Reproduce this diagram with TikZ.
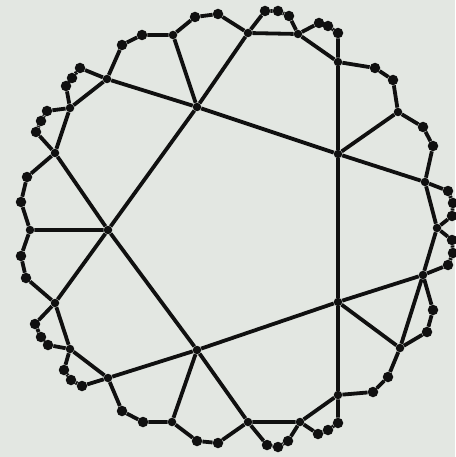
\documentclass[tikz,border=0pt]{standalone}

\definecolor{paper}{RGB}{227,231,226}
\definecolor{ink}{RGB}{16,16,16}
\tikzset{
  hub/.style={circle, fill=ink, inner sep=0pt, minimum size=8.5pt},
  bead/.style={circle, fill=ink, inner sep=0pt, minimum size=10.5pt},
  edge/.style={draw=ink, line width=3.8pt, line join=round},
}

\begin{document}
\begin{tikzpicture}[x=1pt, y=-1pt]
  \fill[paper] (0,0) rectangle (455,457);
  \useasboundingbox (0,0) rectangle (455,457);

  % inner pentagon
  \node[hub] (c1) at (197,107) {};
  \node[hub] (c2) at (338,154) {};
  \node[hub] (c3) at (108,230) {};
  \node[hub] (c4) at (338,302) {};
  \node[hub] (c5) at (197,350) {};
  % spoke ends
  \node[hub] (s1) at (173,35) {};
  \node[hub] (s2) at (398,112) {};
  \node[hub] (s3) at (30,230) {};
  \node[hub] (s4) at (400,348) {};
  \node[hub] (s5) at (172,422) {};
  % ends of the long lines
  \node[hub] (a1) at (107,79) {};
  \node[hub] (a2) at (425,182) {};
  \node[hub] (b1) at (338,62) {};
  \node[hub] (b2) at (338,395) {};
  \node[hub] (d1) at (423,275) {};
  \node[hub] (d2) at (108,378) {};
  \node[hub] (e1) at (248,422) {};
  \node[hub] (e2) at (55,153) {};
  \node[hub] (f1) at (55,303) {};
  \node[hub] (f2) at (248,33) {};
  % outer hubs
  \node[hub] (h1) at (70,108) {};
  \node[hub] (h2) at (298,34) {};
  \node[hub] (h3) at (437,228) {};
  \node[hub] (h4) at (300,422) {};
  \node[hub] (h5) at (70,349) {};

  % beads on the rim, clockwise from a1
  \foreach \n/\x/\y in {1/122/45, 2/142/35, 3/195/17, 4/218/14, 5/265/11,
      6/278/11, 7/289/16, 8/319/23, 9/328/26, 10/338/33, 11/375/68,
      12/393/80, 13/423/127, 14/433/146, 15/448/191, 16/453/203,
      17/452/216, 18/452/240, 19/453/253, 20/448/265, 21/433/310,
      22/427/332, 23/388/377, 24/373/392, 25/338/423, 26/328/430,
      27/318/434, 28/288/441, 29/278/447, 30/267/445, 31/218/443,
      32/197/441, 33/143/422, 34/122/411, 35/82/386, 36/71/380,
      37/64/370, 38/48/345, 39/41/337, 40/35/324, 41/26/278,
      42/21/256, 43/21/202, 44/27/177, 45/36/132, 46/41/121,
      47/47/111, 48/66/86, 49/72/78, 50/80/68}
    \node[bead] (o\n) at (\x,\y) {};

  % rim
  \draw[edge] (a1) -- (o1) -- (o2) -- (s1) -- (o3) -- (o4) -- (f2)
    -- (o5) -- (o6) -- (o7) -- (h2) -- (o8) -- (o9) -- (o10) -- (b1)
    -- (o11) -- (o12) -- (s2) -- (o13) -- (o14) -- (a2)
    -- (o15) -- (o16) -- (o17) -- (h3) -- (o18) -- (o19) -- (o20) -- (d1)
    -- (o21) -- (o22) -- (s4) -- (o23) -- (o24) -- (b2)
    -- (o25) -- (o26) -- (o27) -- (h4) -- (o28) -- (o29) -- (o30) -- (e1)
    -- (o31) -- (o32) -- (s5) -- (o33) -- (o34) -- (d2)
    -- (o35) -- (o36) -- (o37) -- (h5) -- (o38) -- (o39) -- (o40) -- (f1)
    -- (o41) -- (o42) -- (s3) -- (o43) -- (o44) -- (e2)
    -- (o45) -- (o46) -- (o47) -- (h1) -- (o48) -- (o49) -- (o50) -- (a1);

  % long lines through the pentagon
  \draw[edge] (a1) -- (c1) -- (c2) -- (a2);
  \draw[edge] (b1) -- (c2) -- (c4) -- (b2);
  \draw[edge] (d1) -- (c4) -- (c5) -- (d2);
  \draw[edge] (e1) -- (c5) -- (c3) -- (e2);
  \draw[edge] (f1) -- (c3) -- (c1) -- (f2);

  % spokes
  \draw[edge] (c1) -- (s1) (c2) -- (s2) (c3) -- (s3) (c4) -- (s4) (c5) -- (s5);

  % chords near the rim
  \draw[edge] (a1) -- (h1) -- (e2) (f2) -- (h2) -- (b1);
  \draw[edge] (a2) -- (h3) -- (d1) -- (s4);
  \draw[edge] (b2) -- (h4) -- (e1) (d2) -- (h5) -- (f1);
\end{tikzpicture}
\end{document}
